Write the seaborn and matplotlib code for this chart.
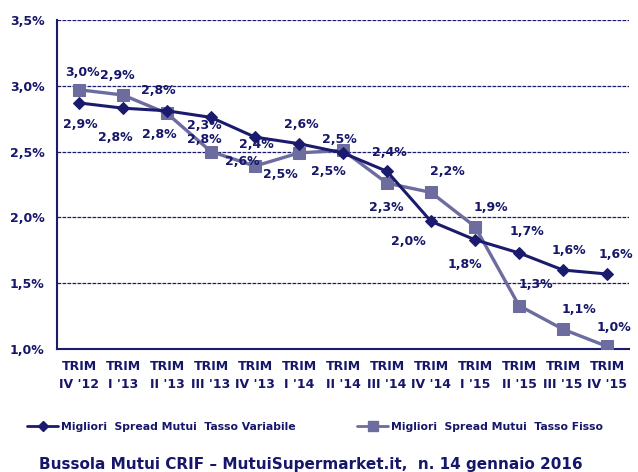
import matplotlib
matplotlib.use("Agg")
import matplotlib.pyplot as plt
import seaborn as sns
import pandas as pd
import numpy as np
from matplotlib.lines import Line2D

sns.set_style("white")
plt.rcParams['font.family'] = ['DejaVu Sans']

quarters = ["TRIM\nIV '12", "TRIM\nI '13", "TRIM\nII '13", "TRIM\nIII '13", "TRIM\nIV '13",
            "TRIM\nI '14", "TRIM\nII '14", "TRIM\nIII '14", "TRIM\nIV '14", "TRIM\nI '15",
            "TRIM\nII '15", "TRIM\nIII '15", "TRIM\nIV '15"]
variabile = [2.87, 2.83, 2.81, 2.76, 2.61, 2.56, 2.49, 2.35, 1.97, 1.83, 1.73, 1.60, 1.57]
fisso = [2.97, 2.93, 2.79, 2.50, 2.39, 2.49, 2.51, 2.26, 2.19, 1.93, 1.33, 1.15, 1.02]
var_labels = ["2,9%", "2,8%", "2,8%", "2,3%", "2,4%", "2,6%", "2,5%", "2,4%", "2,0%", "1,8%", "1,7%", "1,6%", "1,6%"]
fis_labels = ["3,0%", "2,9%", "2,8%", "2,8%", "2,6%", "2,5%", "2,5%", "2,3%", "2,2%", "1,9%", "1,3%", "1,1%", "1,0%"]
yticks = [1.0, 1.5, 2.0, 2.5, 3.0, 3.5]
ytick_labels = ["1,0%", "1,5%", "2,0%", "2,5%", "3,0%", "3,5%"]
name_var = "Migliori  Spread Mutui  Tasso Variabile"
name_fis = "Migliori  Spread Mutui  Tasso Fisso"
title = "Bussola Mutui CRIF \u2013 MutuiSupermarket.it,  n. 14 gennaio 2016"

# label offsets in pixels (dx, dy)
var_off = [(1, -22), (-8, -29), (-8, -24), (-7, -8), (1, -7), (2, 19), (-15, -19), (2, 19),
           (-23, -20), (-10, -25), (8, 21), (6, 20), (9, 19)]
fis_off = [(3, 17), (-6, 20), (-9, 23), (-7, 12), (-13, 5), (-19, -22), (-4, 11), (-1, -24),
           (16, 21), (16, 19), (17, 21), (16, 20), (7, 19)]

NAVY = "#1b1b6e"
GREY = "#6c6c9f"
TXT = "#16166a"

fig = plt.figure(figsize=(6.38, 4.72), dpi=100)
ax = fig.add_axes([57/638, 1-349/472, (629-57)/638, (349-20)/472])

x = np.arange(len(quarters))
df = pd.DataFrame({"x": np.concatenate([x, x]),
                   "y": variabile + fisso,
                   "s": [name_var]*len(x) + [name_fis]*len(x)})

sns.lineplot(data=df[df.s == name_fis], x="x", y="y", ax=ax, color=GREY, lw=2.4,
             marker="s", markersize=8.5, markeredgecolor=GREY, zorder=3, legend=False)
sns.lineplot(data=df[df.s == name_var], x="x", y="y", ax=ax, color=NAVY, lw=2.2,
             marker="D", markersize=6.5, markeredgecolor=NAVY, zorder=4, legend=False)

for i in range(len(x)):
    ax.annotate(var_labels[i], (x[i], variabile[i]), xytext=var_off[i], textcoords="offset pixels",
                ha="center", va="center", fontsize=9, fontweight="bold", color=TXT, zorder=6)
    ax.annotate(fis_labels[i], (x[i], fisso[i]), xytext=fis_off[i], textcoords="offset pixels",
                ha="center", va="center", fontsize=9, fontweight="bold", color=TXT, zorder=6)

ax.set_xlim(-0.5, len(x) - 0.5)
ax.set_ylim(1.0, 3.5)
ax.set_yticks(yticks)
ax.set_yticklabels(ytick_labels, fontsize=9, fontweight="bold", color=TXT)
ax.set_xticks(x)
ax.set_xticklabels(quarters, fontsize=9, fontweight="bold", color=TXT, linespacing=1.45)
ax.set_xticks(np.arange(-0.5, len(x)), minor=True)
ax.tick_params(axis="x", which="major", length=0, pad=8)
ax.tick_params(axis="x", which="minor", length=5, width=1.2, color=NAVY, direction="out")
ax.tick_params(axis="y", length=5, width=1.2, color=NAVY, direction="out", pad=4)
ax.set_xlabel("")
ax.set_ylabel("")

for yv in yticks[1:]:
    ax.axhline(yv, color=NAVY, lw=0.9, ls=(0, (3, 1)), zorder=1)

for s in ["top", "right"]:
    ax.spines[s].set_visible(False)
for s in ["left", "bottom"]:
    ax.spines[s].set_color(NAVY)
    ax.spines[s].set_linewidth(1.5)

h_var = Line2D([], [], color=NAVY, lw=2, marker="D", markersize=5)
h_fis = Line2D([], [], color=GREY, lw=2, marker="s", markersize=7)
leg_kw = dict(loc="center left", frameon=False, handlelength=2.9, handletextpad=0.2,
              borderpad=0, borderaxespad=0, prop={"size": 7.8, "weight": "bold"})
leg1 = fig.legend([h_var], [name_var], bbox_to_anchor=(27/638, 1-427/472), **leg_kw)
leg2 = fig.legend([h_fis], [name_fis], bbox_to_anchor=(357/638, 1-427/472), **leg_kw)
for leg in (leg1, leg2):
    for t in leg.get_texts():
        t.set_color(TXT)

fig.text(311/638, 1-465/472, title, ha="center", va="center", fontsize=11,
         fontweight="bold", color=TXT)

fig.savefig("out.png", dpi=100)
